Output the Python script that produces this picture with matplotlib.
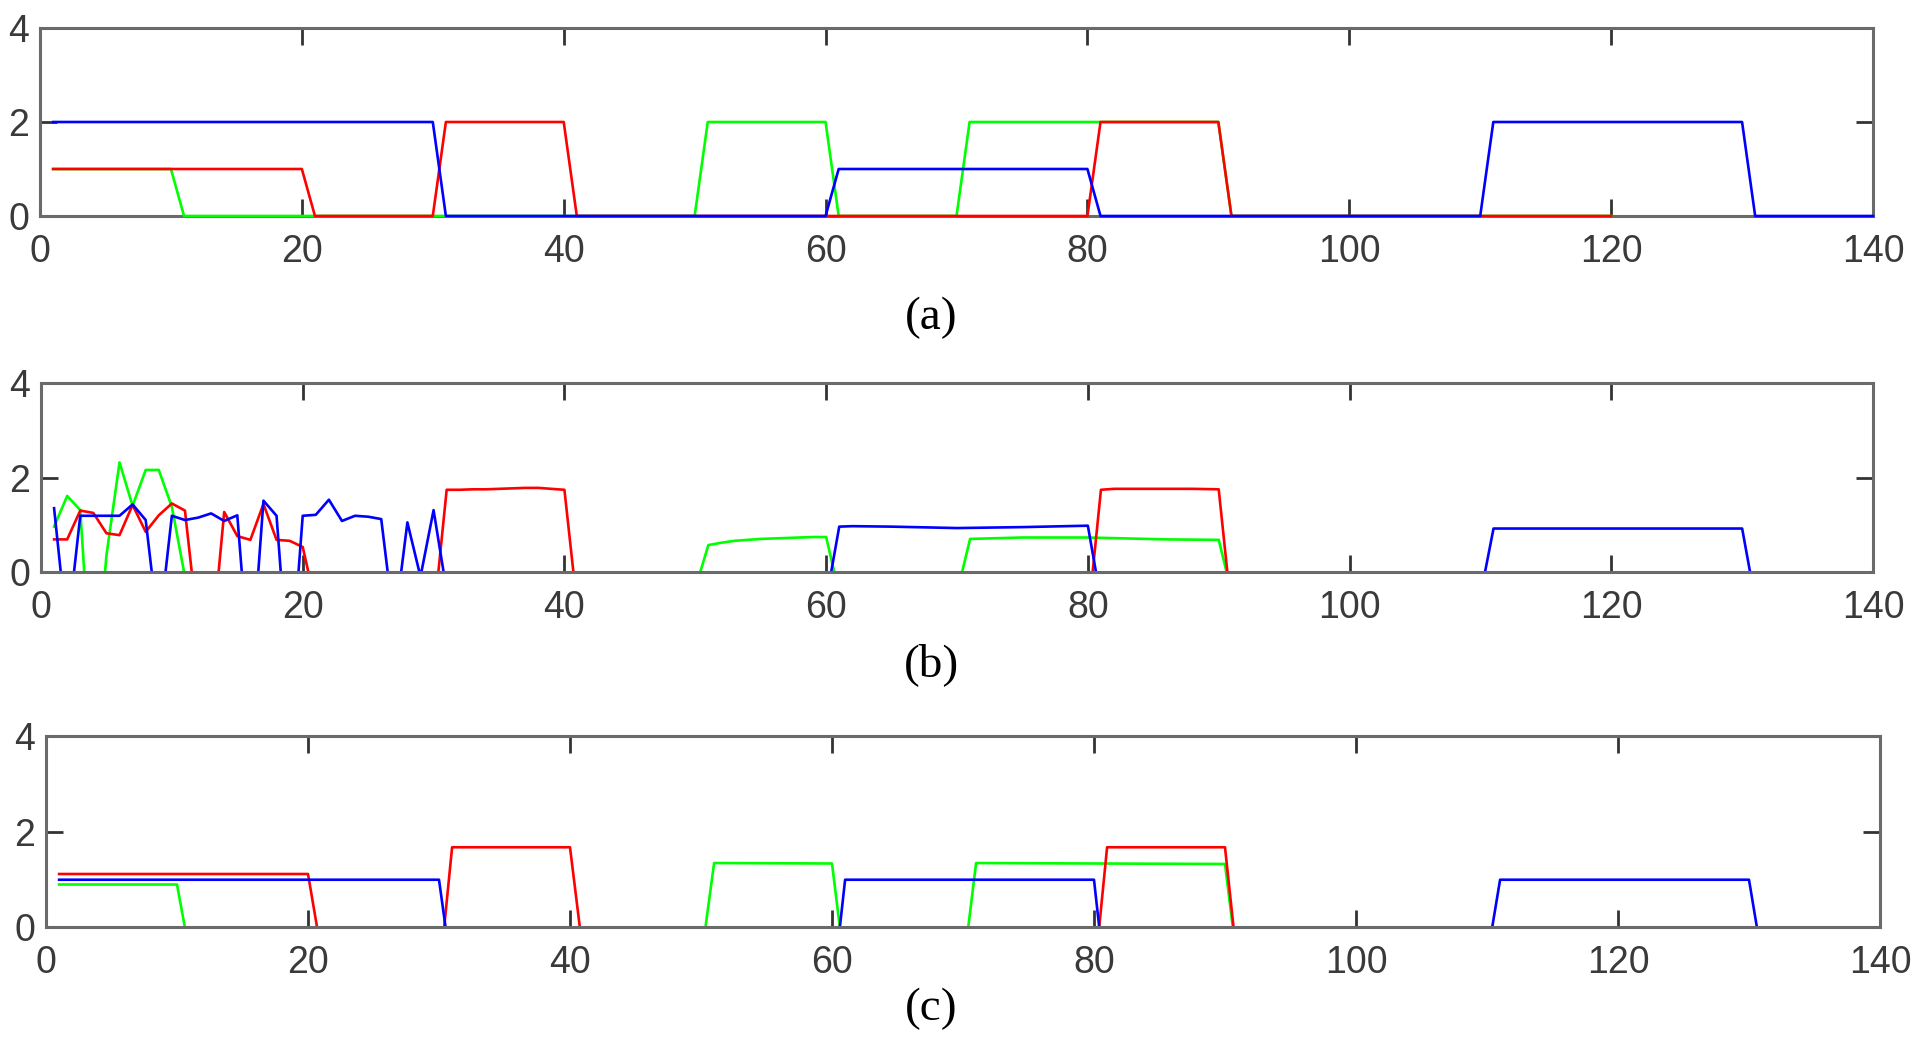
import matplotlib.pyplot as plt

# panel (a)
t_a_green = [1, 10, 11, 50, 51, 60, 61, 70, 71, 90, 91, 120]
v_a_green = [1, 1, 0, 0, 2, 2, 0, 0, 2, 2, 0, 0]
t_a_red = [1, 20, 21, 30, 31, 40, 41, 80, 81, 90, 91, 120]
v_a_red = [1, 1, 0, 0, 2, 2, 0, 0, 2, 2, 0, 0]
t_a_blue = [1, 30, 31, 60, 61, 80, 81, 110, 111, 130, 131, 140]
v_a_blue = [2, 2, 0, 0, 1, 1, 0, 0, 2, 2, 0, 0]

# panel (b)
t_b_green = [1, 2, 3, 4, 5, 6, 7, 8, 9, 10, 11, 50, 51, 52, 53, 55, 57, 59, 60, 61,
             70, 71, 75, 80, 83, 86, 90, 91]
v_b_green = [0.96, 1.61, 1.31, -3.0, 0.35, 2.32, 1.40, 2.16, 2.16, 1.38, -0.1,
             -0.35, 0.57, 0.62, 0.66, 0.70, 0.72, 0.74, 0.74, -0.45,
             -0.45, 0.70, 0.73, 0.73, 0.71, 0.69, 0.68, -0.45]
t_b_red = list(range(1, 21)) + [21, 30] + list(range(31, 41)) + [41, 80, 81, 82, 85, 88, 90, 91]
v_b_red = [0.69, 0.69, 1.30, 1.25, 0.82, 0.78, 1.42, 0.85, 1.20, 1.45,
           1.30, -1.2, -1.7, 1.27, 0.76, 0.68, 1.44, 0.68, 0.66, 0.53,
           -0.7, -1.0,
           1.74, 1.74, 1.75, 1.75, 1.76, 1.77, 1.78, 1.78, 1.76, 1.74,
           -0.8, -1.0, 1.74, 1.76, 1.76, 1.76, 1.75, -0.9]
t_b_blue = list(range(1, 32)) + [60, 61, 62, 65, 70, 75, 80, 81, 110, 111, 130, 131, 140]
v_b_blue = [1.35, -1.3, 1.19, 1.19, 1.19, 1.19, 1.43, 1.10, -1.27, 1.19,
            1.10, 1.15, 1.24, 1.08, 1.20, -2.3, 1.51, 1.19, -2.5, 1.19,
            1.21, 1.53, 1.08, 1.19, 1.17, 1.12, -1.15, 1.05, -0.1, 1.31,
            -0.4,
            -0.6, 0.96, 0.97, 0.96, 0.93, 0.95, 0.98, -0.6, -0.5, 0.92, 0.92, -0.6, -0.6]

# panel (c)
t_c_green = [1, 10, 11, 50, 51, 60, 61, 70, 71, 80, 90, 91]
v_c_green = [0.89, 0.89, -0.6, -0.7, 1.34, 1.33, -0.9, -0.9, 1.34, 1.33, 1.32, -0.9]
t_c_red = [1, 20, 21, 30, 31, 40, 41, 80, 81, 90, 91]
v_c_red = [1.11, 1.11, -0.5, -1.1, 1.67, 1.67, -0.56, -1.1, 1.67, 1.67, -0.9]
t_c_blue = [1, 30, 31, 60, 61, 80, 81, 110, 111, 130, 131]
v_c_blue = [0.99, 0.99, -0.99, -1.5, 0.99, 0.99, -1.5, -0.66, 0.99, 0.99, -0.66]

panels = [
    ("(a)", [(t_a_green, v_a_green), (t_a_red, v_a_red), (t_a_blue, v_a_blue)]),
    ("(b)", [(t_b_green, v_b_green), (t_b_red, v_b_red), (t_b_blue, v_b_blue)]),
    ("(c)", [(t_c_green, v_c_green), (t_c_red, v_c_red), (t_c_blue, v_c_blue)]),
]
colors = ["#00ff00", "#ff0000", "#0000ff"]

# axes boxes in pixels: left, right, top, bottom
boxes = [(40, 1873, 28, 216), (41, 1873, 383, 572), (46, 1880, 736, 927)]
label_y = [318, 665, 1009]

W, H = 1920, 1044
fig = plt.figure(figsize=(W / 100, H / 100), dpi=100)

for i, (name, series) in enumerate(panels):
    l, r, t, b = boxes[i]
    ax = fig.add_axes([l / W, 1 - b / H, (r - l) / W, (b - t) / H])
    for (xs, ys), c in zip(series, colors):
        if i == 0:
            ax.plot(xs, ys, color=c, lw=1.9, zorder=3, clip_on=False)
        else:
            ax.plot(xs, ys, color=c, lw=1.9, zorder=2)
    ax.set_xlim(0, 140)
    ax.set_ylim(0, 4)
    ax.set_xticks(range(0, 141, 20))
    ax.set_yticks([0, 2, 4])
    for s in ax.spines.values():
        s.set_color("#6a6a6a")
        s.set_linewidth(2.2)
    ax.tick_params(direction="in", top=True, right=True, length=12, width=2,
                   color="#333333", labelsize=27, labelcolor="#3a3a3a")
    ax.tick_params(axis="x", pad=13)
    ax.tick_params(axis="y", pad=8)
    for lab in ax.get_xticklabels() + ax.get_yticklabels():
        lab.set_family("Liberation Sans")
    fig.text(931 / W, 1 - label_y[i] / H, name, ha="center", va="center",
             fontsize=34, family="Liberation Serif")

fig.savefig("out.png", dpi=100)
